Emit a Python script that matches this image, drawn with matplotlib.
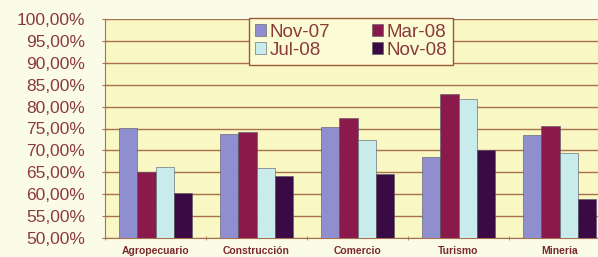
import numpy as np
import matplotlib.pyplot as plt
from matplotlib.ticker import FuncFormatter, MultipleLocator

# Datos
sectores = ['Agropecuario', 'Construcción', 'Comercio', 'Turismo', 'Mineria']
periodos = ['Nov-07', 'Mar-08', 'Jul-08', 'Nov-08']
nov07 = [75.1, 73.8, 75.3, 68.5, 73.5]
mar08 = [65.1, 74.2, 77.5, 82.9, 75.6]
jul08 = [66.3, 65.9, 72.4, 81.7, 69.4]
nov08 = [60.2, 64.2, 64.6, 70.2, 58.8]
colores = ['#8f8fd0', '#8b1a4c', '#c8eceb', '#3a0a45']

series = [nov07, mar08, jul08, nov08]
texto = '#8b3a3a'
lineas = '#a8704c'

plt.rcParams['font.family'] = ['Liberation Sans', 'DejaVu Sans']

fig = plt.figure(figsize=(5.98, 2.57), dpi=100, facecolor='#fbfce8')
ax = fig.add_axes([105 / 598, 19 / 257, 505 / 598, 219 / 257])
ax.set_facecolor('#f9f8c4')

x = np.arange(len(sectores))
ancho = 0.183
barras = []
for i, (vals, c) in enumerate(zip(series, colores)):
    b = ax.bar(x + (i - 1.5) * ancho, vals, ancho, bottom=0, color=c,
               edgecolor='#555566', linewidth=0.4, label=periodos[i], zorder=3)
    barras.append(b)

ax.set_ylim(50, 100)
ax.set_xlim(-0.5, len(sectores) - 0.5)
ax.yaxis.set_major_locator(MultipleLocator(5))
ax.yaxis.set_major_formatter(FuncFormatter(lambda v, p: f'{v:.2f}%'.replace('.', ',')))
ax.grid(axis='y', color=lineas, linewidth=1.0, zorder=1)

ax.set_xticks(x)
ax.set_xticklabels(sectores, fontsize=7.5, fontweight='bold', color='#7a2a2a')
ax.set_xticks(np.arange(-0.5, len(sectores)), minor=True)
ax.tick_params(axis='x', which='major', length=0, pad=6)
ax.tick_params(axis='x', which='minor', length=3, color=lineas, direction='inout')
ax.tick_params(axis='y', labelsize=12.5, labelcolor=texto, color=lineas,
               length=5, direction='inout', pad=12)

for s in ['top', 'right']:
    ax.spines[s].set_visible(False)
ax.spines['left'].set_color(lineas)
ax.spines['bottom'].set_color(lineas)

# orden por filas: Nov-07, Mar-08 / Jul-08, Nov-08
orden = [0, 2, 1, 3]
leg = ax.legend([barras[k] for k in orden], [periodos[k] for k in orden],
                ncol=2, loc='upper left', bbox_to_anchor=(144 / 505, 1.005),
                fontsize=13.5, frameon=True, fancybox=False, handlelength=0.6,
                handleheight=0.6, handletextpad=0.2, columnspacing=2.2,
                labelspacing=0.08, borderpad=0.3, borderaxespad=0)
leg.get_frame().set_edgecolor('#9a5a3a')
leg.get_frame().set_facecolor('#fbfbd4')
leg.get_frame().set_alpha(1)
for t in leg.get_texts():
    t.set_color(texto)

fig.savefig('out.png', dpi=100, facecolor=fig.get_facecolor())
